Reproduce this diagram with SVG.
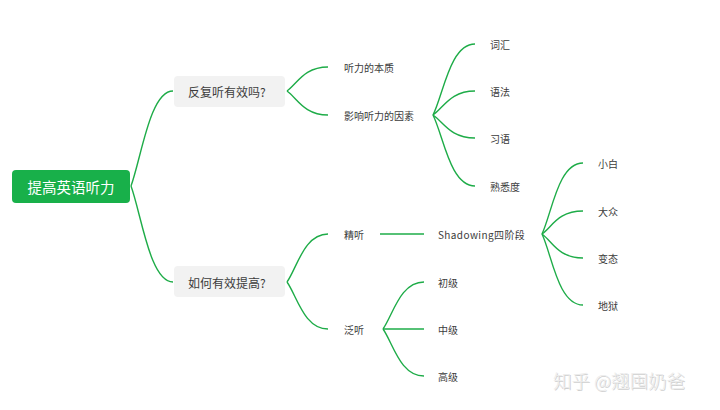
<svg xmlns="http://www.w3.org/2000/svg" width="720" height="410" viewBox="0 0 720 410">
<style>
.t{font-family:"Noto Sans CJK SC","Noto Sans",sans-serif;fill:#3c3c3c;dominant-baseline:central}
.s{font-size:10px}
.m{font-size:12px}
.c{fill:none;stroke:#1eac48;stroke-width:1.4}
.box{fill:#f2f2f2}
</style>
<rect width="720" height="410" fill="#ffffff"/>
<g id="connectors">
<path class="c" d="M131 186 C141.5 157 150 91 173 91"/>
<path class="c" d="M131 186 C141.5 215 150 282 173 282"/>
<path class="c" d="M287 91 C297 84 304 67 328 67"/>
<path class="c" d="M287 91 C297 98 304 115 328 115"/>
<path class="c" d="M287 282 C297 268 304 234 328 234"/>
<path class="c" d="M287 282 C297 296 304 329 328 329"/>
<path class="c" d="M433 115 C443.5 94 450 44 475 44"/>
<path class="c" d="M433 115 C443.5 108 450 91 475 91"/>
<path class="c" d="M433 115 C443.5 122 450 138 475 138"/>
<path class="c" d="M433 115 C443.5 136 450 186 475 186"/>
<path class="c" d="M380 234 L424 234"/>
<path class="c" d="M542 234 C552 213 558 163 583 163"/>
<path class="c" d="M542 234 C552 227 558 211 583 211"/>
<path class="c" d="M542 234 C552 241 558 258 583 258"/>
<path class="c" d="M542 234 C552 255 558 305 583 305"/>
<path class="c" d="M383 329 C393 315 400 282 424 282"/>
<path class="c" d="M383 329 L424 329"/>
<path class="c" d="M383 329 C393 343 400 376 424 376"/>
</g>
<g id="root">
<rect x="12" y="170" width="118" height="33" rx="4" fill="#18b04a"/>
<text class="t" x="71" y="186.5" font-size="14.5" text-anchor="middle" style="fill:#ffffff">提高英语听力</text>
</g>
<g id="n-fanfu">
<rect class="box" x="174" y="76" width="111" height="31" rx="4"/>
<text class="t m" x="188" y="91">反复听有效吗?</text>
</g>
<g id="n-ruhe">
<rect class="box" x="174" y="266" width="111" height="31" rx="4"/>
<text class="t m" x="188" y="282">如何有效提高?</text>
</g>
<g id="n-benzhi"><text class="t s" x="344" y="67">听力的本质</text></g>
<g id="n-yinsu"><text class="t s" x="344" y="115">影响听力的因素</text></g>
<g id="n-cihui"><text class="t s" x="490" y="44">词汇</text></g>
<g id="n-yufa"><text class="t s" x="490" y="91">语法</text></g>
<g id="n-xiyu"><text class="t s" x="490" y="138">习语</text></g>
<g id="n-shuxi"><text class="t s" x="490" y="186">熟悉度</text></g>
<g id="n-jingting"><text class="t s" x="344" y="234">精听</text></g>
<g id="n-shadowing"><text class="t s" x="438" y="234" letter-spacing="0.4">Shadowing四阶段</text></g>
<g id="n-xiaobai"><text class="t s" x="598" y="163">小白</text></g>
<g id="n-dazhong"><text class="t s" x="598" y="211">大众</text></g>
<g id="n-biantai"><text class="t s" x="598" y="258">变态</text></g>
<g id="n-diyu"><text class="t s" x="598" y="305">地狱</text></g>
<g id="n-fanting"><text class="t s" x="344" y="329">泛听</text></g>
<g id="n-chuji"><text class="t s" x="438" y="282">初级</text></g>
<g id="n-zhongji"><text class="t s" x="438" y="329">中级</text></g>
<g id="n-gaoji"><text class="t s" x="438" y="376">高级</text></g>
<g id="watermark" font-size="18.5" font-weight="300">
<text class="t" x="554" y="381" style="fill:#cfcfcf">知乎 @翘囤奶爸</text>
<text class="t" x="553" y="380" style="fill:#ececec">知乎 @翘囤奶爸</text>
</g>
</svg>
